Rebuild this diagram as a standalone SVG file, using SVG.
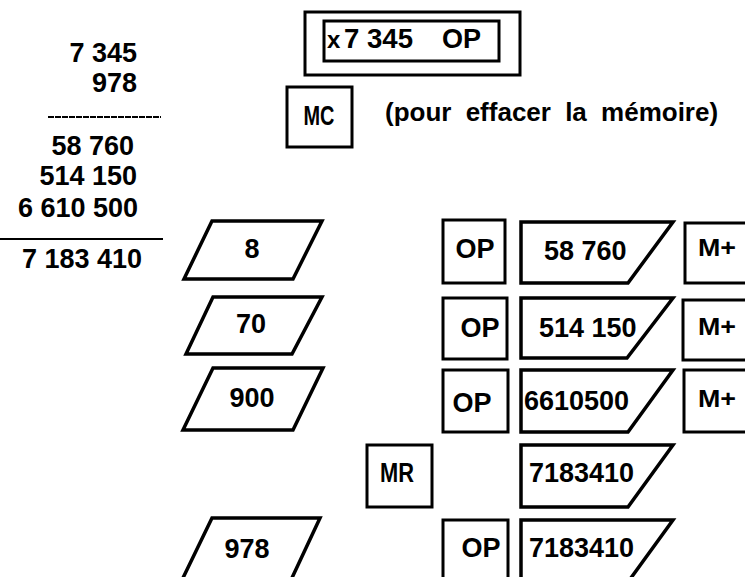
<svg xmlns="http://www.w3.org/2000/svg" width="745" height="577" viewBox="0 0 745 577">
<style>
text{font-family:"Liberation Sans",Arial,sans-serif;font-weight:bold;fill:#000}
.n{font-size:27px}
.r{text-anchor:end}
.c{text-anchor:middle}
.m{font-size:24px}
.box{fill:#fff;stroke:#000;stroke-width:3}
.par{fill:#fff;stroke:#000;stroke-width:3.5;stroke-linejoin:miter}
.rule{stroke:#000;stroke-width:2}
</style>
<rect width="745" height="577" fill="#fff"/>

<g id="calcul">
  <text class="n r" x="137" y="62">7 345</text>
  <text class="n r" x="137" y="92">978</text>
  <line class="rule" x1="48" y1="117" x2="161" y2="117" stroke-dasharray="6 1"/>
  <text class="n r" x="134" y="155">58 760</text>
  <text class="n r" x="137" y="185">514 150</text>
  <text class="n r" x="138" y="217">6 610 500</text>
  <line class="rule" x1="0" y1="239" x2="163" y2="239"/>
  <text class="n r" x="142" y="268">7 183 410</text>
</g>

<g id="entree">
  <rect class="box" x="305" y="12" width="215" height="63"/>
  <rect class="box" x="324" y="21" width="175" height="40"/>
  <text x="327" y="48" style="font-size:24px">x</text>
  <text class="n" x="344" y="48" textLength="69" lengthAdjust="spacingAndGlyphs">7 345</text>
  <text class="n" x="442" y="48">OP</text>
</g>

<g id="mc">
  <rect class="box" x="287" y="87" width="65" height="60"/>
  <text class="n c" x="319" y="125" textLength="31" lengthAdjust="spacingAndGlyphs">MC</text>
</g>
<text x="385" y="121" style="font-size:26px;word-spacing:7px">(pour effacer la mémoire)</text>

<g id="p8">
  <polygon class="par" points="212,221 322,221 293,279 184,279"/>
  <text class="n c" x="252" y="258">8</text>
</g>
<g id="p70">
  <polygon class="par" points="213,297 322,297 292,354 186,354"/>
  <text class="n c" x="251" y="333">70</text>
</g>
<g id="p900">
  <polygon class="par" points="213,368 323,368 293,430 183,430"/>
  <text class="n c" x="252" y="407">900</text>
</g>
<g id="p978">
  <polygon class="par" points="212,518 320,518 291,580 182,580"/>
  <text class="n c" x="247" y="558">978</text>
</g>

<g id="op1">
  <rect class="box" x="443" y="220" width="62" height="63"/>
  <text class="n c" x="475" y="258">OP</text>
</g>
<g id="op2">
  <rect class="box" x="443" y="298" width="64" height="61"/>
  <text class="n c" x="480" y="337">OP</text>
</g>
<g id="op3">
  <rect class="box" x="443" y="370" width="65" height="62"/>
  <text class="n c" x="472" y="412">OP</text>
</g>
<g id="op4">
  <rect class="box" x="443" y="520" width="65" height="62"/>
  <text class="n c" x="481" y="557">OP</text>
</g>

<g id="mr">
  <rect class="box" x="367" y="445" width="65" height="62"/>
  <text class="n c" x="397" y="482" textLength="34" lengthAdjust="spacingAndGlyphs">MR</text>
</g>

<g id="d1">
  <polygon class="par" points="521,222 673,222 628,283 521,283"/>
  <text class="n" x="544" y="260">58 760</text>
</g>
<g id="d2">
  <polygon class="par" points="521,298 673,298 627,358 521,358"/>
  <text class="n" x="539" y="337">514 150</text>
</g>
<g id="d3">
  <polygon class="par" points="521,370 673,370 628,432 521,432"/>
  <text class="n" x="524" y="410">6610500</text>
</g>
<g id="d4">
  <polygon class="par" points="521,445 673,445 628,507 521,507"/>
  <text class="n" x="529" y="482">7183410</text>
</g>
<g id="d5">
  <polygon class="par" points="521,520 673,520 628,582 521,582"/>
  <text class="n" x="529" y="557">7183410</text>
</g>

<g id="mplus1">
  <rect class="box" x="685" y="223" width="70" height="60"/>
  <text class="m" x="698" y="256" textLength="38" lengthAdjust="spacingAndGlyphs">M+</text>
</g>
<g id="mplus2">
  <rect class="box" x="683" y="300" width="72" height="60"/>
  <text class="m" x="698" y="335" textLength="38" lengthAdjust="spacingAndGlyphs">M+</text>
</g>
<g id="mplus3">
  <rect class="box" x="684" y="370" width="71" height="62"/>
  <text class="m" x="698" y="407" textLength="38" lengthAdjust="spacingAndGlyphs">M+</text>
</g>

<g id="connectors"></g>
</svg>
